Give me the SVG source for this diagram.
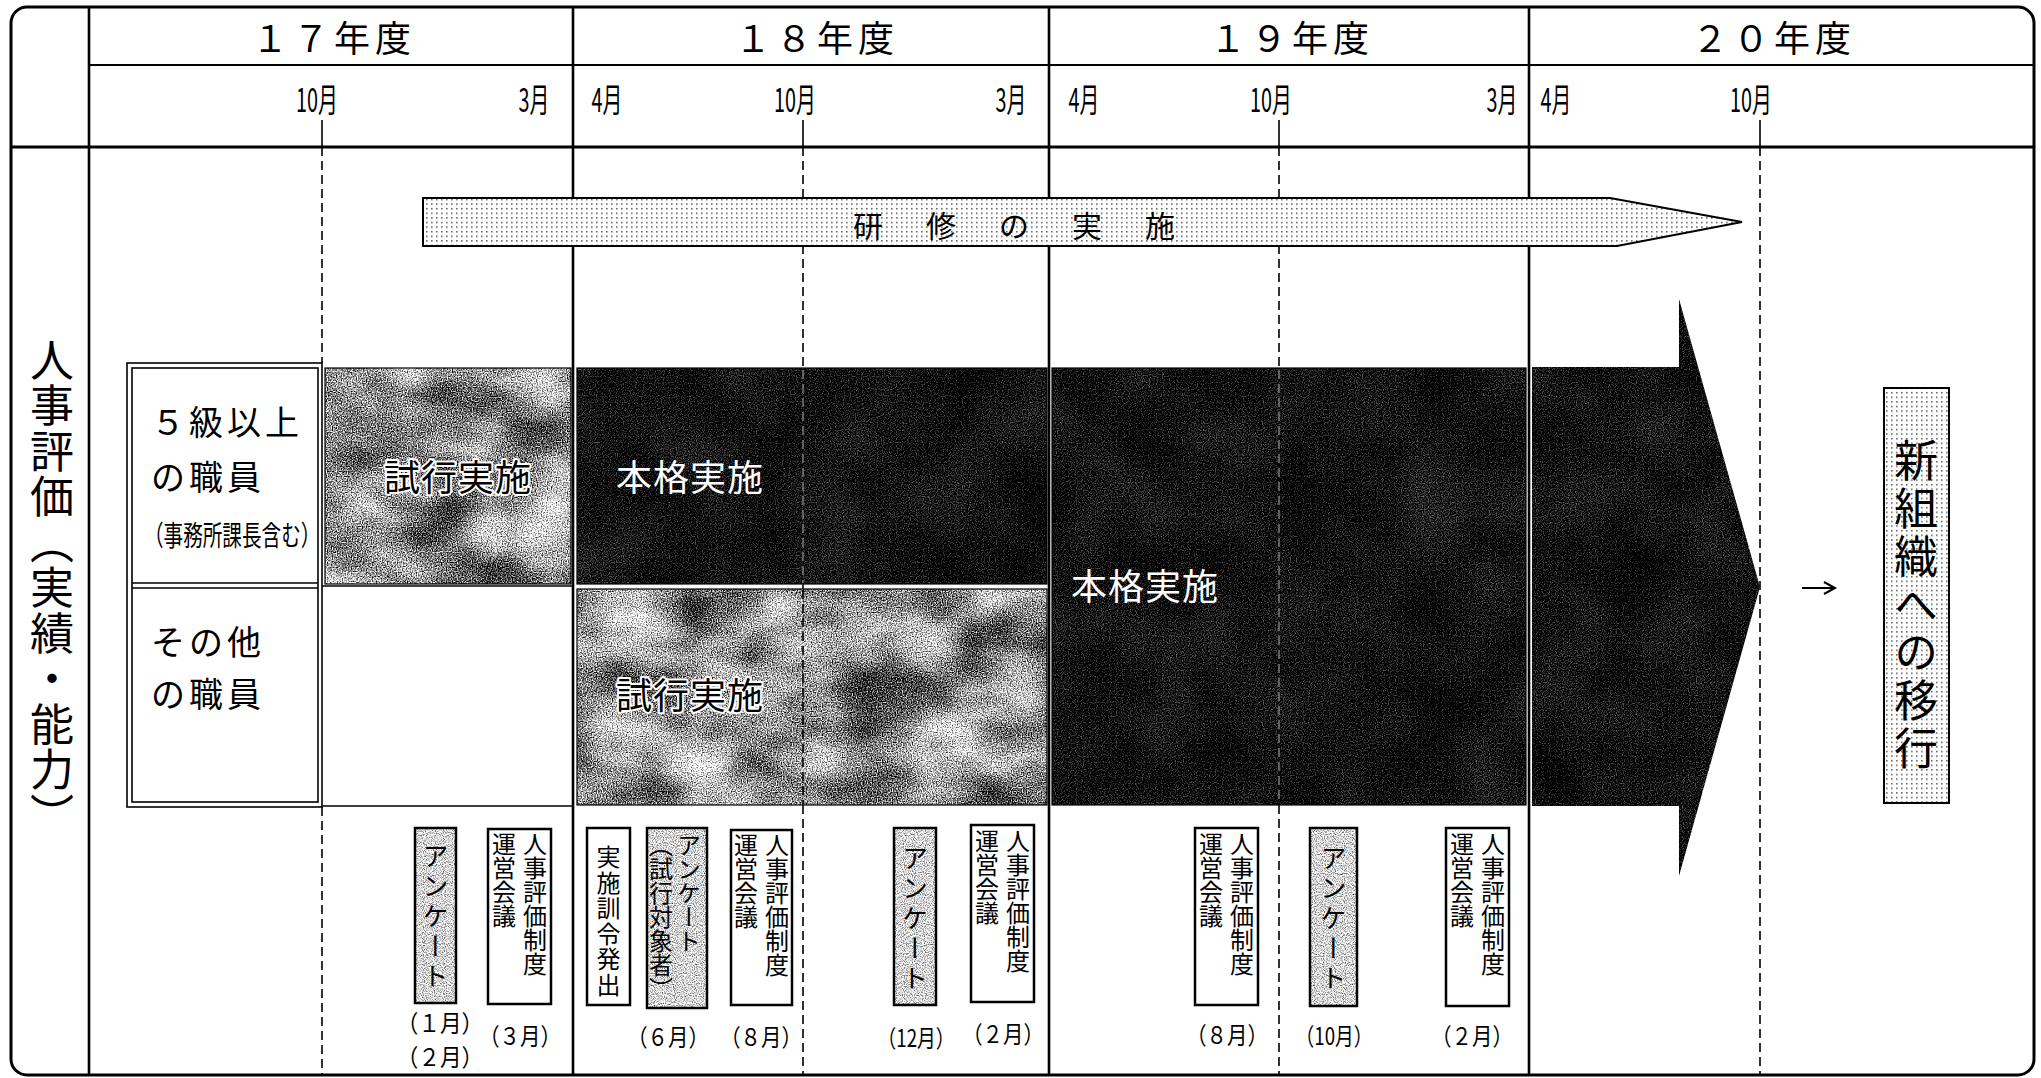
<svg xmlns="http://www.w3.org/2000/svg" width="2041" height="1078" viewBox="0 0 2041 1078">
<style>
 text { font-family: "Noto Sans CJK JP", "Noto Sans", sans-serif; fill:#000; }
 .yr { font-size:36px; text-anchor:middle; letter-spacing:5px; }
 .mo { font-size:33px; text-anchor:middle; }
 .cat { font-size:34px; letter-spacing:4px; }
 .blk { font-size:36px; letter-spacing:1px; }
 .wt { fill:#fff; }
 .bt { stroke:#fff; stroke-width:4px; paint-order:stroke; stroke-linejoin:round; }
 .vt { writing-mode:vertical-rl; }
 .bxt { font-size:24px; }
 .enq { font-size:26px; letter-spacing:4px; }
 .dt { font-size:24px; text-anchor:middle; }
 .ln { stroke:#000; fill:none; }
 .dash { stroke:#000; stroke-width:1.6; stroke-dasharray:9 5; fill:none; }
 .ldash { stroke:#8a8a8a; stroke-width:1.3; stroke-dasharray:9 5; fill:none; }
 .bxs { fill:none; stroke:#000; stroke-width:2.5; }
</style>
<defs>
 <pattern id="pDot" width="5" height="4.6" patternUnits="userSpaceOnUse">
  <rect width="5" height="4.6" fill="#fff"/>
  <rect x="1" y="1" width="1.6" height="1.4" fill="#555"/>
 </pattern>
 <filter id="fMottle" x="0" y="0" width="1" height="1" color-interpolation-filters="sRGB">
  <feTurbulence type="fractalNoise" baseFrequency="0.012 0.018" numOctaves="3" seed="11" result="lo"/>
  <feColorMatrix in="lo" type="matrix" values="1 0 0 0 0 1 0 0 0 0 1 0 0 0 0 0 0 0 0 1" result="log"/>
  <feTurbulence type="fractalNoise" baseFrequency="0.8" numOctaves="1" seed="4" result="hi"/>
  <feColorMatrix in="hi" type="matrix" values="1 0 0 0 0 1 0 0 0 0 1 0 0 0 0 0 0 0 0 1" result="hig"/>
  <feComposite in="log" in2="hig" operator="arithmetic" k2="0.25" k3="0.5" k4="0.25" result="mix"/>
  <feColorMatrix in="mix" type="matrix" values="5 0 0 0 -2.575 5 0 0 0 -2.575 5 0 0 0 -2.575 0 0 0 0 1" result="g"/>
  <feComposite in="g" in2="SourceGraphic" operator="in"/>
 </filter>
 <filter id="fDark" x="0" y="0" width="1" height="1" color-interpolation-filters="sRGB">
  <feTurbulence type="fractalNoise" baseFrequency="0.85" numOctaves="1" seed="9" result="hi"/>
  <feColorMatrix in="hi" type="matrix" values="1 0 0 0 0 1 0 0 0 0 1 0 0 0 0 0 0 0 0 1" result="hig"/>
  <feTurbulence type="fractalNoise" baseFrequency="0.015" numOctaves="2" seed="3" result="lo"/>
  <feColorMatrix in="lo" type="matrix" values="1 0 0 0 0 1 0 0 0 0 1 0 0 0 0 0 0 0 0 1" result="log"/>
  <feComposite in="hig" in2="log" operator="arithmetic" k2="0.5" k3="0.1" k4="0.4" result="mix"/>
  <feColorMatrix in="mix" type="matrix" values="2.5 0 0 0 -1.71 2.5 0 0 0 -1.71 2.5 0 0 0 -1.71 0 0 0 0 1" result="g"/>
  <feComposite in="g" in2="SourceGraphic" operator="in"/>
 </filter>
 <filter id="fLight" x="0" y="0" width="1" height="1" color-interpolation-filters="sRGB">
  <feTurbulence type="fractalNoise" baseFrequency="0.9" numOctaves="1" seed="21" result="hi"/>
  <feColorMatrix in="hi" type="matrix" values="2 0 0 0 -0.15 2 0 0 0 -0.15 2 0 0 0 -0.15 0 0 0 0 1" result="g"/>
  <feComposite in="g" in2="SourceGraphic" operator="in"/>
 </filter>
</defs>

<rect x="0" y="0" width="2041" height="1078" fill="#fff"/>

<!-- month dashed guide lines (under the blocks) -->
<g id="guides">
 <path class="dash" d="M322,147 V363 M322,807 V1075 M803,147 V1075 M1279,147 V1075 M1760,147 V1075"/>
 <path class="ln" stroke-width="1.6" d="M322,120 V147 M803,120 V147 M1279,120 V147 M1760,120 V147"/>
</g>

<!-- shaded period blocks -->
<g id="block-17-trial">
 <rect x="325" y="368" width="246" height="216" fill="#888" filter="url(#fMottle)"/>
 <rect x="325" y="368" width="246" height="216" class="ln" stroke-width="1.2"/>
 <text class="blk bt" x="384" y="491">試行実施</text>
</g>
<g id="block-18-full">
 <rect x="577" y="368" width="470" height="216" fill="#111" filter="url(#fDark)"/>
 <rect x="577" y="368" width="470" height="216" class="ln" stroke-width="1.2"/>
 <path class="ldash" d="M803,370 V583"/>
 <text class="blk wt" x="616" y="491">本格実施</text>
</g>
<g id="block-18-trial">
 <rect x="577" y="589" width="470" height="216" fill="#888" filter="url(#fMottle)"/>
 <rect x="577" y="589" width="470" height="216" class="ln" stroke-width="1.2"/>
 <path class="dash" d="M803,590 V804"/>
 <text class="blk bt" x="616" y="709">試行実施</text>
</g>
<g id="block-19-full">
 <rect x="1052" y="368" width="474" height="437" fill="#111" filter="url(#fDark)"/>
 <rect x="1052" y="368" width="474" height="437" class="ln" stroke-width="1.2"/>
 <path class="ldash" d="M1279,370 V804"/>
 <text class="blk wt" x="1071" y="600">本格実施</text>
</g>
<g id="block-20-arrow">
 <polygon points="1532,367 1679,367 1679,299 1760,587 1679,876 1679,806 1532,806" fill="#111" filter="url(#fDark)"/>
</g>

<!-- table frame -->
<g id="frame">
 <rect x="11" y="7" width="2023" height="1068" rx="16" class="ln" stroke-width="3"/>
 <path class="ln" stroke-width="2.2" d="M89,65 H2034"/>
 <path class="ln" stroke-width="3.2" d="M11,147 H2034"/>
 <path class="ln" stroke-width="2.6" d="M89,7 V1075 M573,7 V1075 M1049,7 V1075 M1529,7 V1075"/>
</g>

<!-- header -->
<g id="header">
 <text class="yr" x="334" y="52">１７年度</text>
 <text class="yr" x="817" y="52">１８年度</text>
 <text class="yr" x="1292" y="52">１９年度</text>
 <text class="yr" x="1774" y="52">２０年度</text>
 <text class="mo" transform="translate(317,112) scale(0.6,1)">10月</text>
 <text class="mo" transform="translate(534,112) scale(0.6,1)">3月</text>
 <text class="mo" transform="translate(607,112) scale(0.6,1)">4月</text>
 <text class="mo" transform="translate(795,112) scale(0.6,1)">10月</text>
 <text class="mo" transform="translate(1011,112) scale(0.6,1)">3月</text>
 <text class="mo" transform="translate(1084,112) scale(0.6,1)">4月</text>
 <text class="mo" transform="translate(1271,112) scale(0.6,1)">10月</text>
 <text class="mo" transform="translate(1502,112) scale(0.6,1)">3月</text>
 <text class="mo" transform="translate(1556,112) scale(0.6,1)">4月</text>
 <text class="mo" transform="translate(1751,112) scale(0.6,1)">10月</text>
</g>

<!-- side heading -->
<g id="side-heading">
 <text class="vt" x="52" y="338" font-size="44" letter-spacing="1.5">人事評価（実績・能力）</text>
</g>

<!-- category box -->
<g id="category">
 <rect x="127" y="363" width="195" height="444" class="ln" stroke-width="1.6"/>
 <rect x="132" y="368" width="186" height="434" class="ln" stroke-width="1.6"/>
 <path class="ln" stroke-width="1.6" d="M132,583 H318 M132,588 H318"/>
 <path class="ln" stroke-width="1.6" d="M322,586 H573 M322,806 H573"/>
 <text class="cat" x="151" y="435">５級以上</text>
 <text class="cat" x="151" y="490">の職員</text>
 <text transform="translate(144,546) scale(0.7,1)" font-size="28">（事務所課長含む）</text>
 <text class="cat" x="151" y="655">その他</text>
 <text class="cat" x="151" y="707">の職員</text>
</g>

<!-- training arrow -->
<g id="training">
 <polygon points="423,198 1610,198 1742,222 1617,246 423,246" fill="url(#pDot)" stroke="#000" stroke-width="2"/>
 <text x="853" y="224" font-size="30" letter-spacing="43" dominant-baseline="central">研修の実施</text>
</g>

<!-- new organisation -->
<g id="new-org">
 <rect x="1884" y="388" width="65" height="415" fill="url(#pDot)" stroke="#000" stroke-width="2"/>
 <text class="vt" x="1916" y="438" font-size="44" letter-spacing="4">新組織への移行</text>
</g>

<g id="connectors">
 <path class="ln" stroke-width="2" d="M1802,588 H1834 M1824,582 L1835,588 L1824,594"/>
</g>

<!-- bottom events -->
<g id="ev1">
 <rect x="415" y="828" width="41" height="175" fill="#ddd" filter="url(#fLight)"/>
 <rect x="415" y="828" width="41" height="175" class="bxs"/>
 <text class="vt enq" x="435.5" y="843">アンケート</text>
 <text class="dt" font-size="22" transform="translate(440,1032) scale(0.9,1)">（１月）</text>
 <text class="dt" font-size="22" transform="translate(440,1066) scale(0.9,1)">（２月）</text>
</g>
<g id="ev2">
 <rect x="488" y="829" width="63" height="175" class="bxs" fill="#fff"/>
 <text class="vt bxt" x="535" y="832">人事評価制度</text>
 <text class="vt bxt" x="504" y="832">運営会議</text>
 <text class="dt" transform="translate(520,1045) scale(0.85,1)">（３月）</text>
</g>
<g id="ev3">
 <rect x="587" y="828" width="43" height="177" class="bxs" fill="#fff"/>
 <text class="vt bxt" x="608.5" y="845" letter-spacing="1.5">実施訓令発出</text>
</g>
<g id="ev4">
 <rect x="647" y="828" width="60" height="180" fill="#ddd" filter="url(#fLight)"/>
 <rect x="647" y="828" width="60" height="180" class="bxs"/>
 <text class="vt bxt" x="689" y="833">アンケート</text>
 <text class="vt bxt" x="661" y="833">（試行対象者）</text>
 <text class="dt" transform="translate(668,1046) scale(0.85,1)">（６月）</text>
</g>
<g id="ev5">
 <rect x="731" y="830" width="61" height="175" class="bxs" fill="#fff"/>
 <text class="vt bxt" x="777" y="833">人事評価制度</text>
 <text class="vt bxt" x="746" y="833">運営会議</text>
 <text class="dt" transform="translate(761,1046) scale(0.85,1)">（８月）</text>
</g>
<g id="ev6">
 <rect x="894" y="828" width="42" height="177" fill="#ddd" filter="url(#fLight)"/>
 <rect x="894" y="828" width="42" height="177" class="bxs"/>
 <text class="vt enq" x="915" y="845">アンケート</text>
 <text class="dt" transform="translate(916,1047) scale(0.78,1)">（12月）</text>
</g>
<g id="ev7">
 <rect x="971" y="825" width="63" height="177" class="bxs" fill="#fff"/>
 <text class="vt bxt" x="1018" y="829">人事評価制度</text>
 <text class="vt bxt" x="987" y="829">運営会議</text>
 <text class="dt" transform="translate(1003,1043) scale(0.85,1)">（２月）</text>
</g>
<g id="ev8">
 <rect x="1195" y="828" width="63" height="177" class="bxs" fill="#fff"/>
 <text class="vt bxt" x="1242" y="832">人事評価制度</text>
 <text class="vt bxt" x="1211" y="832">運営会議</text>
 <text class="dt" transform="translate(1227,1044) scale(0.85,1)">（８月）</text>
</g>
<g id="ev9">
 <rect x="1310" y="828" width="47" height="178" fill="#ddd" filter="url(#fLight)"/>
 <rect x="1310" y="828" width="47" height="178" class="bxs"/>
 <text class="vt enq" x="1333.5" y="845">アンケート</text>
 <text class="dt" transform="translate(1334,1045) scale(0.78,1)">（10月）</text>
</g>
<g id="ev10">
 <rect x="1446" y="828" width="63" height="178" class="bxs" fill="#fff"/>
 <text class="vt bxt" x="1493" y="832">人事評価制度</text>
 <text class="vt bxt" x="1462" y="832">運営会議</text>
 <text class="dt" transform="translate(1472,1045) scale(0.85,1)">（２月）</text>
</g>
</svg>
